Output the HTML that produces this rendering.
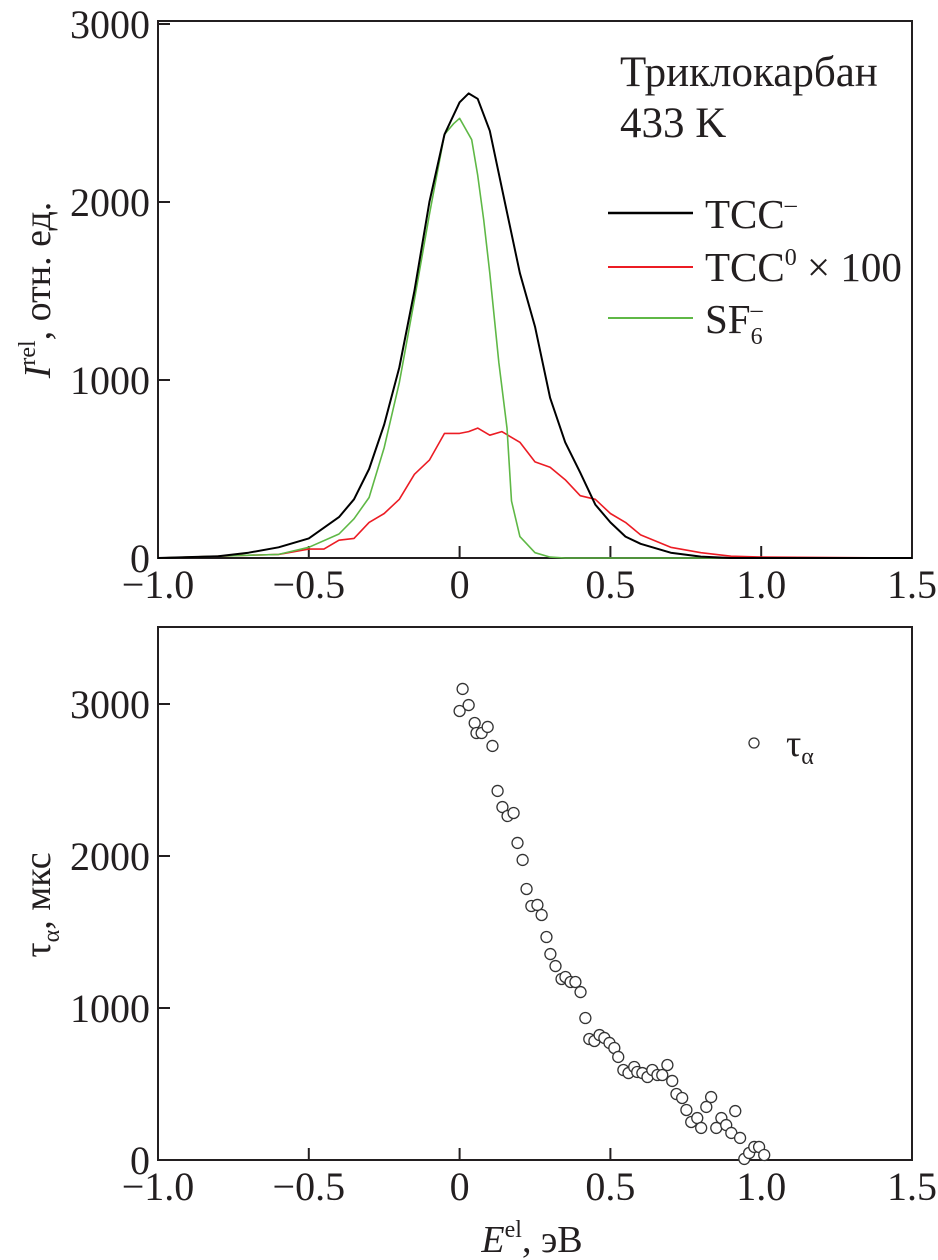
<!DOCTYPE html>
<html><head><meta charset="utf-8"><style>
html,body{margin:0;padding:0;background:#fff;}
svg{display:block;font-family:"Liberation Serif",serif;fill:#231f20;}
</style></head><body>
<svg id="chart" width="938" height="1260" viewBox="0 0 938 1260" xmlns="http://www.w3.org/2000/svg"></svg>
<script>
// ---- data ----
const xTicks = [-1.0, -0.5, 0, 0.5, 1.0, 1.5];
const xTickLabels = ["\u22121.0", "\u22120.5", "0", "0.5", "1.0", "1.5"];
const topYTicks = [0, 1000, 2000, 3000];
const botYTicks = [0, 1000, 2000, 3000];
const tccNegE = [-1.0,-0.8,-0.7,-0.6,-0.5,-0.4,-0.35,-0.3,-0.25,-0.2,-0.15,-0.1,-0.05,0,0.03,0.06,0.1,0.15,0.2,0.25,0.3,0.35,0.4,0.45,0.5,0.55,0.6,0.7,0.8,0.9,1.5];
const tccNegI = [0,10,30,60,110,230,330,500,750,1070,1500,2000,2380,2560,2610,2580,2400,2000,1600,1300,900,650,480,300,200,120,80,30,8,0,0];
const tcc0E = [-1.0,-0.6,-0.5,-0.45,-0.4,-0.35,-0.3,-0.25,-0.2,-0.15,-0.1,-0.05,0,0.03,0.06,0.1,0.14,0.2,0.25,0.3,0.35,0.4,0.45,0.5,0.55,0.6,0.7,0.8,0.9,1.0,1.5];
const tcc0I = [0,20,50,50,100,110,200,250,330,470,550,700,700,710,730,690,710,650,540,510,440,350,330,250,200,130,60,30,10,5,0];
const sf6E = [-1.0,-0.6,-0.5,-0.4,-0.35,-0.3,-0.25,-0.2,-0.15,-0.1,-0.05,-0.02,0,0.04,0.06,0.08,0.1,0.13,0.157,0.172,0.2,0.25,0.3,0.35,1.5];
const sf6I = [0,20,60,135,220,340,620,985,1450,1930,2380,2440,2470,2350,2150,1900,1600,1100,730,320,120,30,5,0,0];
const tauE = [0.01,0.00,0.03,0.05,0.056,0.073,0.093,0.109,0.126,0.142,0.159,0.179,0.192,0.209,0.222,0.238,0.258,0.272,0.288,0.301,0.318,0.338,0.351,0.368,0.384,0.401,0.417,0.430,0.447,0.464,0.480,0.497,0.513,0.526,0.543,0.560,0.579,0.589,0.606,0.623,0.639,0.656,0.672,0.689,0.705,0.719,0.738,0.752,0.768,0.788,0.801,0.818,0.834,0.851,0.868,0.884,0.901,0.914,0.930,0.944,0.960,0.977,0.993,1.010];
const tauV = [3099,2954,2993,2875,2809,2809,2849,2724,2428,2322,2263,2283,2086,1974,1783,1671,1678,1612,1467,1355,1276,1191,1204,1171,1171,1105,934,796,783,822,803,770,737,678,592,572,612,579,572,546,592,559,559,625,520,434,408,329,250,276,211,349,414,211,276,230,178,322,145,7,46,86,86,33];

// ---- layout ----
const NS = "http://www.w3.org/2000/svg";
const svg = document.getElementById("chart");
const L = 158, R = 912;
const xS = v => L + (v + 1) / 2.5 * (R - L);
const yTop = v => 558 - v * 0.178;
const yBot = v => 1160 - v * 0.152;
function el(tag, attrs, parent) {
  const e = document.createElementNS(NS, tag);
  for (const k in attrs) e.setAttribute(k, attrs[k]);
  (parent || svg).appendChild(e);
  return e;
}
function txt(s, x, y, size, anchor, parent) {
  const t = el("text", {x: x, y: y, "font-size": size, "text-anchor": anchor || "middle"}, parent);
  t.textContent = s;
  return t;
}

function panel(name, top, bottom, yFn, yTicks) {
  const g = el("g", {});
  
  
  const frame = el("rect", {x: L, y: top, width: R - L, height: bottom - top, fill: "none", stroke: "#231f20", "stroke-width": 2}, g);
  
  
  const xa = el("g", {}, g);
  
  
  xTicks.forEach((v, i) => {
    const x = xS(v);
    el("line", {x1: x, x2: x, y1: bottom, y2: bottom - 12, stroke: "#231f20", "stroke-width": 2}, xa);
    const t = txt(xTickLabels[i], x, bottom + 40, 40, "middle", xa);
    
    
  });
  const ya = el("g", {}, g);
  
  
  yTicks.forEach(v => {
    const y = yFn(v);
    el("line", {x1: L, x2: L + 12, y1: y, y2: y, stroke: "#231f20", "stroke-width": 2}, ya);
    const t = txt(String(v), L - 8, y + 14, 40, "end", ya);
    
    
  });
  return g;
}

const gTop = panel("top-panel", 21, 558, yTop, topYTicks);
const gBot = panel("bottom-panel", 627, 1160, yBot, botYTicks);

function line(xs, ys, color, name, w) {
  const d = xs.map((x, i) => (i ? "L" : "M") + xS(x).toFixed(1) + "," + yTop(ys[i]).toFixed(1)).join(" ");
  const p = el("path", {d: d, fill: "none", stroke: color, "stroke-width": w, "stroke-linejoin": "round"}, gTop);
  
  
}
line(tcc0E, tcc0I, "#ec1c24", "tcc0-line", 1.6);
line(sf6E, sf6I, "#5fb846", "sf6-line", 1.6);
line(tccNegE, tccNegI, "#000", "tcc-neg-line", 2);

// top legend & annotation
const ann = el("g", {}, gTop);


txt("Триклокарбан", 620, 86, 43, "start", ann);
txt("433 K", 620, 137, 43, "start", ann);
const leg = el("g", {}, gTop);


el("line", {x1: 608, x2: 693, y1: 213, y2: 213, stroke: "#000", "stroke-width": 2.5}, leg);
el("line", {x1: 608, x2: 693, y1: 267, y2: 267, stroke: "#ec1c24", "stroke-width": 2}, leg);
el("line", {x1: 608, x2: 693, y1: 318, y2: 318, stroke: "#5fb846", "stroke-width": 2}, leg);
let t1 = el("text", {x: 705, y: 228, "font-size": 41}, leg);
t1.innerHTML = 'TCC<tspan dy="-16" font-size="24">\u2013</tspan>';
let t2 = el("text", {x: 705, y: 281, "font-size": 41}, leg);
t2.innerHTML = 'TCC<tspan dy="-16" font-size="24">0</tspan><tspan dy="16"> \u00d7 100</tspan>';
let t3 = el("text", {x: 705, y: 333, "font-size": 41}, leg);
t3.innerHTML = 'SF<tspan dy="11" font-size="24">6</tspan><tspan dx="-12" dy="-27" font-size="24">\u2013</tspan>';

// top y title
let yt1 = el("text", {transform: "translate(50,290) rotate(-90)", "font-size": 38, "text-anchor": "middle"});


yt1.innerHTML = '<tspan font-style="italic">I</tspan><tspan dy="-15" font-size="24">rel</tspan><tspan dy="15">, отн. ед.</tspan>';

// scatter
const pts = el("g", {}, gBot);


tauE.forEach((e, i) => {
  const c = el("circle", {cx: xS(e), cy: yBot(tauV[i]), r: 5.5, fill: "#fff", stroke: "#333", "stroke-width": 1.3}, pts);
  
  
});
const leg2 = el("g", {}, gBot);


el("circle", {cx: 754, cy: 743, r: 5, fill: "#fff", stroke: "#333", "stroke-width": 1.3}, leg2);
let lt = el("text", {x: 786, y: 756, "font-size": 38}, leg2);
lt.innerHTML = 'τ<tspan dy="8" font-size="24">α</tspan>';

let yt2 = el("text", {transform: "translate(50,905) rotate(-90)", "font-size": 38, "text-anchor": "middle"});


yt2.innerHTML = 'τ<tspan dy="9" font-size="24">α</tspan><tspan dy="-9">, мкс</tspan>';

let xt = el("text", {x: 532, y: 1252, "font-size": 38, "text-anchor": "middle"});


xt.innerHTML = '<tspan font-style="italic">E</tspan><tspan dy="-15" font-size="24">el</tspan><tspan dy="15">, эВ</tspan>';
</script>
</body></html>
